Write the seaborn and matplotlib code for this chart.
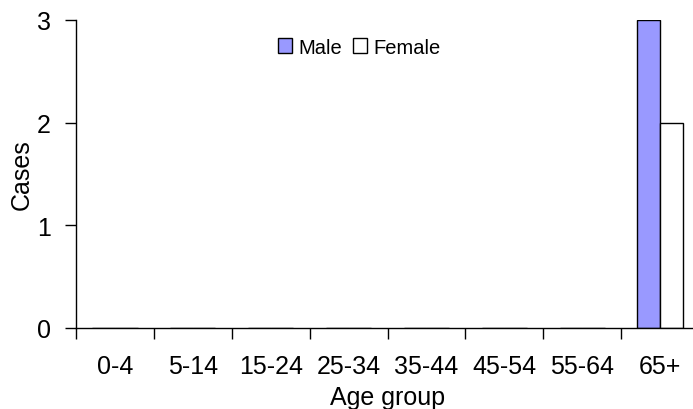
import matplotlib
matplotlib.use("Agg")
import matplotlib.pyplot as plt
import seaborn as sns
import pandas as pd
from matplotlib.ticker import FixedLocator

# Case counts by age group and sex
age_groups = ["0-4", "5-14", "15-24", "25-34", "35-44", "45-54", "55-64", "65+"]
male_cases = [0, 0, 0, 0, 0, 0, 0, 3]
female_cases = [0, 0, 0, 0, 0, 0, 0, 2]
sexes = ["Male", "Female"]
y_ticks = [0, 1, 2, 3]

df = pd.DataFrame({
    "Age group": age_groups * 2,
    "Cases": male_cases + female_cases,
    "Sex": [sexes[0]] * len(age_groups) + [sexes[1]] * len(age_groups),
})

sns.set_style("ticks")
plt.rcParams["font.family"] = ["Liberation Sans", "DejaVu Sans"]
for key in ["text.color", "axes.labelcolor", "xtick.color", "ytick.color",
            "axes.edgecolor"]:
    plt.rcParams[key] = "black"

W, H = 693, 410
fig = plt.figure(figsize=(W / 100, H / 100), dpi=100)
ax = fig.add_axes([76 / W, 81 / H, (699 - 76) / W, 308 / H])

sns.barplot(
    data=df, x="Age group", y="Cases", hue="Sex", order=age_groups,
    hue_order=sexes, palette={"Male": "#9999FF", "Female": "#FFFFFF"},
    edgecolor="black", linewidth=1.0, width=0.58, saturation=1, ax=ax,
)

ax.set_xlim(-0.5, len(age_groups) - 0.5)
ax.set_ylim(0, 3)
ax.set_yticks(y_ticks)
ax.tick_params(axis="y", labelsize=18, length=8, width=1, pad=10, direction="out")
ax.tick_params(axis="x", which="major", labelsize=18, length=0, pad=19)
ax.xaxis.set_minor_locator(FixedLocator([i - 0.5 for i in range(len(age_groups))]))
ax.tick_params(axis="x", which="minor", length=8, width=1, direction="out")

for side in ["top", "right"]:
    ax.spines[side].set_visible(False)
for side in ["left", "bottom"]:
    ax.spines[side].set_linewidth(1)
    ax.spines[side].set_color("black")

ax.set_xlabel("Age group", fontsize=18)
ax.set_ylabel("Cases", fontsize=18)
ax.xaxis.set_label_coords(0.5, -0.186)
ax.yaxis.set_label_coords(-0.068, 0.5)

leg = ax.legend(
    loc="center", bbox_to_anchor=((359 - 76) / 623, (329 - 48) / 308),
    ncol=2, frameon=False, fontsize=14.5, handlelength=0.7, handleheight=0.7,
    handletextpad=0.3, columnspacing=0.55, borderaxespad=0,
)
for patch in leg.get_patches():
    patch.set_edgecolor("black")
    patch.set_linewidth(1)

fig.savefig("out.png", dpi=100)
